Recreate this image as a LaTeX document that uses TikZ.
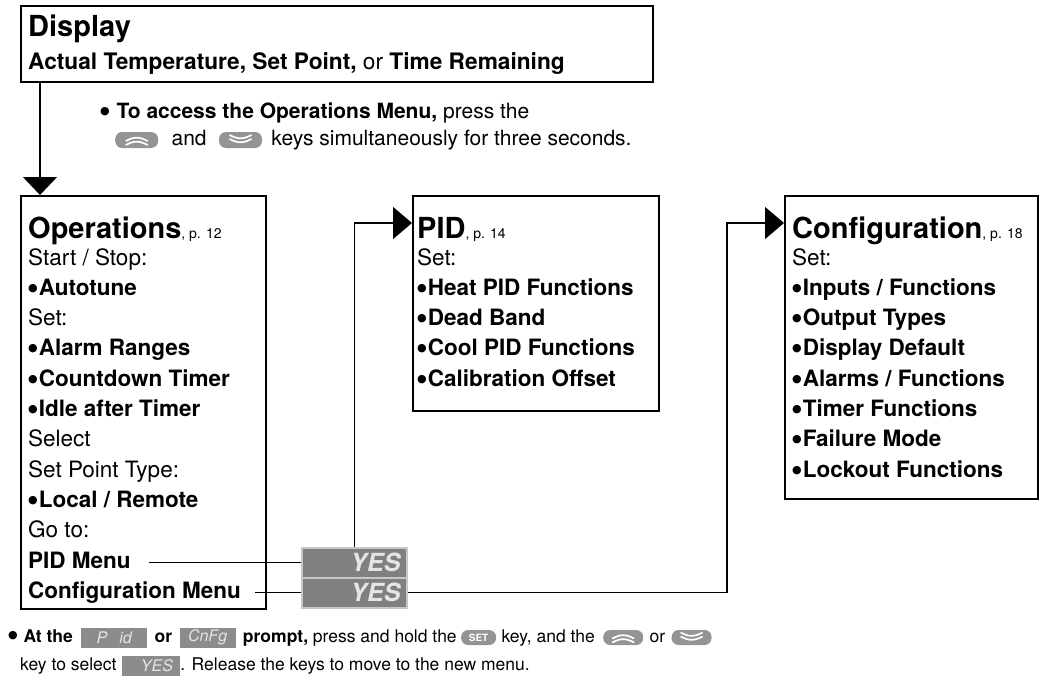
\documentclass[tikz,border=0pt]{standalone}
\usepackage{fontspec}
\setmainfont{TeX Gyre Heros}
\newfontfamily\dotfont{DejaVu Sans}
\usetikzlibrary{arrows.meta,positioning,calc}

\newcommand{\menupage}[1]{{\mdseries\fontsize{14}{14}\selectfont, p. #1}}
\newcommand{\bul}{{\dotfont\fontsize{11}{11}\selectfont\raisebox{4pt}{●}}\kern1pt}

\tikzset{
  menubox/.style={draw, line width=2.4pt, inner sep=0pt, anchor=north west},
  menutitle/.style={anchor=base west, inner sep=0pt, font=\fontsize{29}{32}\selectfont\bfseries},
  menuitem/.style={anchor=base west, inner sep=0pt, text height=16pt, text depth=5pt, font=\fontsize{22.5}{27}\selectfont},
  notetext/.style={inner sep=0pt, text height=15pt, text depth=4.5pt, font=\fontsize{21}{25}\selectfont},
  smallnote/.style={inner sep=0pt, text height=13pt, text depth=4pt, font=\fontsize{17.5}{21}\selectfont},
  link/.style={line width=1.3pt},
  yesdisp/.style={fill=black!50, draw=black!22, line width=2pt, minimum width=105pt, minimum height=30pt,
    inner sep=0pt, text width=92pt, align=right, text=white!90!black, font=\fontsize{25}{25}\selectfont\bfseries\itshape},
  promptdisp/.style={fill=black!45, minimum height=20pt, inner sep=0pt, text=white!90!black, font=\fontsize{16}{16}\selectfont\itshape},
  keypill/.style={fill=black!42, rounded corners=7pt, minimum width=40pt, minimum height=15pt, inner sep=0pt},
  upkey/.style={keypill, path picture={
    \draw[white, line width=1.7pt, line join=round]
      ([xshift=-11pt,yshift=-1pt]path picture bounding box.center) -- ([yshift=4pt]path picture bounding box.center)
        -- ([xshift=11pt,yshift=-1pt]path picture bounding box.center)
      ([xshift=-11pt,yshift=-5pt]path picture bounding box.center) -- ([yshift=0pt]path picture bounding box.center)
        -- ([xshift=11pt,yshift=-5pt]path picture bounding box.center);}},
  downkey/.style={keypill, path picture={
    \draw[white, line width=1.7pt, line join=round]
      ([xshift=-11pt,yshift=1pt]path picture bounding box.center) -- ([yshift=-4pt]path picture bounding box.center)
        -- ([xshift=11pt,yshift=1pt]path picture bounding box.center)
      ([xshift=-11pt,yshift=5pt]path picture bounding box.center) -- ([yshift=0pt]path picture bounding box.center)
        -- ([xshift=11pt,yshift=5pt]path picture bounding box.center);}},
  setbtn/.style={keypill, minimum width=35pt, text=white, font=\fontsize{10}{10}\selectfont\bfseries}
}

\begin{document}
\begin{tikzpicture}[x=1pt, y=-1pt, >={Triangle[width=32pt,length=19pt]}]
  \useasboundingbox (0,0) rectangle (1040,677);

  % display box
  \node[menubox, minimum width=632pt, minimum height=76pt] (display) at (20,5) {};
  \node[menutitle] (disptitle) at (28,37) {Display};
  \node[menuitem, font=\fontsize{22.7}{27}\selectfont\bfseries] (dispsub) at (28,70)
    {Actual Temperature, Set Point, {\mdseries or} Time Remaining};

  % how to get in
  \node[notetext, anchor=base west] (access) at (100,118.5)
    {\bul\ \textbf{To access the Operations Menu,} press the};
  \node[upkey, minimum width=43pt, minimum height=16pt, anchor=west] (upA) at (115,140) {};
  \node[notetext, right=13pt of upA] (andA) {and};
  \node[downkey, minimum width=43pt, minimum height=16pt, right=12pt of andA] (downA) {};
  \node[notetext, right=9pt of downA] (keysA) {keys simultaneously for three seconds.};

  % operations menu
  \node[menubox, minimum width=245pt, minimum height=413pt] (ops) at (20,195) {};
  \node[menutitle] (opstitle) at (28,238) {Operations\menupage{12}};
  \foreach \txt [count=\i from 0] in {Start / Stop:, {\bfseries\bul Autotune}, Set:,
      {\bfseries\bul Alarm Ranges}, {\bfseries\bul Countdown Timer}, {\bfseries\bul Idle after Timer},
      Select, Set Point Type:, {\bfseries\bul Local / Remote}, Go to:}
    \node[menuitem] (ops-\i) at (28,{265+30.3*\i}) {\txt};
  \node[menuitem, font=\fontsize{22.5}{27}\selectfont\bfseries] (pidmenu) at (28,568) {PID Menu};
  \node[menuitem, font=\fontsize{22.5}{27}\selectfont\bfseries] (cfgmenu) at (28,598.3) {Configuration Menu};

  % pid menu
  \node[menubox, minimum width=246pt, minimum height=215pt] (pid) at (412,195) {};
  \node[menutitle] (pidtitle) at (417,238) {PID\menupage{14}};
  \foreach \txt [count=\i from 0] in {Set:, {\bfseries\bul Heat PID Functions}, {\bfseries\bul Dead Band},
      {\bfseries\bul Cool PID Functions}, {\bfseries\bul Calibration Offset}}
    \node[menuitem] (pid-\i) at (417,{265+30.3*\i}) {\txt};

  % configuration menu
  \node[menubox, minimum width=253pt, minimum height=303pt] (cfg) at (784,195) {};
  \node[menutitle] (cfgtitle) at (792,238) {Configuration\menupage{18}};
  \foreach \txt [count=\i from 0] in {Set:, {\bfseries\bul Inputs / Functions}, {\bfseries\bul Output Types},
      {\bfseries\bul Display Default}, {\bfseries\bul Alarms / Functions}, {\bfseries\bul Timer Functions},
      {\bfseries\bul Failure Mode}, {\bfseries\bul Lockout Functions}}
    \node[menuitem] (cfg-\i) at (792,{265+30.3*\i}) {\txt};

  % yes displays
  \coordinate (yescol) at (354.5,0);
  \node[yesdisp] (yes1) at (pidmenu.east -| yescol) {YES};
  \node[yesdisp] (yes2) at (cfgmenu.east -| yescol) {YES};
  \coordinate (pidin) at ($(pid.north west)+(0,28)$);
  \coordinate (cfgin) at ($(cfg.north west)+(0,28)$);
  \coordinate (cfgturn) at (727,223);

  % connectors
  \draw[link, ->, >={Triangle[width=34pt,length=18pt]}]
    ($(display.south west)+(20,0)$) -- ($(ops.north west)+(20,0)$);
  \draw[link, shorten <=18pt] (pidmenu.east) -- (yes1.west);
  \draw[link, ->] (yes1.north) |- (pidin);
  \draw[link, shorten <=14pt] (cfgmenu.east) -- (yes2.west);
  \draw[link, ->] (yes2.east) -| (cfgturn) -- (cfgin);

  % how to switch menus
  \node[smallnote, anchor=base west] (atthe) at (8,642) {\bul\ \textbf{At the}};
  \node[promptdisp, right=8pt of atthe, minimum width=66pt] (pidprompt) {P\hspace{12pt}id};
  \node[smallnote, right=7pt of pidprompt] (orA) {\textbf{or}};
  \node[promptdisp, right=7pt of orA, minimum width=56pt] (cfgprompt) {CnFg};
  \node[smallnote, right=7pt of cfgprompt] (promptA) {\textbf{prompt,} press and hold the};
  \node[setbtn, right=4pt of promptA] (setA) {SET};
  \node[smallnote, right=5pt of setA] (keyA) {key, and the};
  \node[upkey, right=8pt of keyA] (upB) {};
  \node[smallnote, right=6pt of upB] (orB) {or};
  \node[downkey, right=6pt of orB] (downB) {};
  \node[smallnote, anchor=base west] (keysel) at (20,670) {key to select};
  \node[promptdisp, right=5pt of keysel, minimum width=58pt] (yesprompt) {\hspace{12pt}YES};
  \node[smallnote, right=0pt of yesprompt] (release) {. Release the keys to move to the new menu.};
\end{tikzpicture}
\end{document}
